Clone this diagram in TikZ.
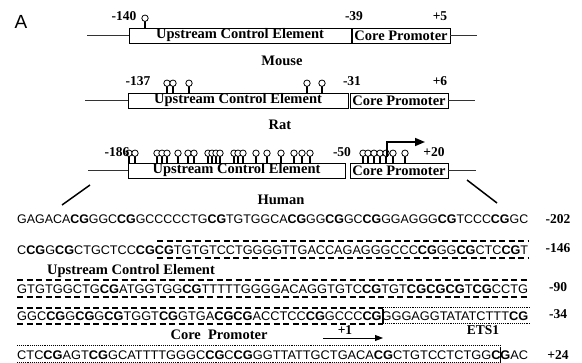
\documentclass[tikz,border=0pt]{standalone}
\usepackage{fontspec}
\usepackage{graphicx}
\setmainfont{Liberation Serif}
\newfontfamily\seqfont{Liberation Sans}
\usetikzlibrary{arrows.meta}
\newcommand\lol[2]{\draw[lolstem] (#1,#2) -- (#1,#2-6.5); \draw[lolhead] (#1,#2-9.8) circle (3.2pt);}
\newcommand\sq[1]{\resizebox{511pt}{\height}{\seqfont\fontsize{12.5}{14}\selectfont #1}}
\begin{document}
\begin{tikzpicture}[x=1pt,y=-1pt,
  box/.style={draw, line width=0.8pt, inner sep=0pt, minimum height=15pt, font=\bfseries\fontsize{14.5}{16}\selectfont},
  lbl/.style={inner sep=0pt, font=\bfseries\fontsize{13.5}{15}\selectfont},
  spec/.style={inner sep=0pt, font=\bfseries\fontsize{14.5}{16}\selectfont},
  flank/.style={line width=0.8pt, black!80},
  lolstem/.style={line width=1.3pt},
  lolhead/.style={line width=0.8pt, fill=white},
  seqline/.style={inner sep=0pt, anchor=west},
  dashbox/.style={line width=1.3pt, dash pattern=on 6pt off 3.5pt},
  dotbox/.style={line width=1pt, dash pattern=on 0.8pt off 1.1pt},
  slash/.style={line width=1.5pt}]
\useasboundingbox (0,0) rectangle (582,363);
\node[inner sep=0pt, font=\seqfont\fontsize{19}{20}\selectfont] (A) at (21,22) {A};

% Mouse
\node[box, minimum width=222pt] (mU) at (240,35.5) {Upstream Control Element};
\node[box, minimum width=98pt] (mC) at (401,35.5) {Core Promoter};
\coordinate (mL) at (87,35.5);
\coordinate (mR) at (477,35.5);
\draw[flank] (mL) -- (mU.west);
\draw[flank] (mC.east) -- (mR);
\lol{145}{28}
\node[lbl] (m140) at (124,16) {-140};
\node[lbl] (m39) at (354,16) {-39};
\node[lbl] (m5) at (440,16) {+5};
\node[spec] (mouse) at (282,61) {Mouse};

% Rat
\node[box, minimum width=220pt] (rU) at (238,100.5) {Upstream Control Element};
\node[box, minimum width=98pt] (rC) at (399,100.5) {Core Promoter};
\coordinate (rL) at (85,100.5);
\coordinate (rR) at (475,100.5);
\draw[flank] (rL) -- (rU.west);
\draw[flank] (rC.east) -- (rR);
\foreach \p in {167,173,189,307,322} {\lol{\p}{93}}
\node[lbl] (r137) at (138,81) {-137};
\node[lbl] (r31) at (352,81) {-31};
\node[lbl] (r6) at (440,81) {+6};
\node[spec] (rat) at (280,125) {Rat};

% Human
\node[box, minimum width=217pt] (hU) at (236.5,170.5) {Upstream Control Element};
\node[box, minimum width=98pt] (hC) at (399,170.5) {Core Promoter};
\coordinate (hL) at (88,170.5);
\coordinate (hR) at (476,170.5);
\draw[flank] (hL) -- (hU.west);
\draw[flank] (hC.east) -- (hR);
\foreach \p in {129,135,157,162,167,178,188,194,208,212,216,220,234,238,243,256,267,281,294,302,310,363,368,374,380,386,393,405} {\lol{\p}{163}}
\node[lbl] (h186) at (117,152) {-186};
\node[lbl] (h50) at (342,152) {-50};
\node[lbl] (h20) at (434,152) {+20};
\coordinate (tss0) at (387,157);
\coordinate (tss1) at (387,142);
\coordinate (tss2) at (425,142);
\draw[line width=1.5pt, -{Triangle[length=10pt,width=8pt]}] (tss0) -- (tss1) -- (tss2);
\node[spec] (human) at (281,200) {Human};
\coordinate (dl1) at (90,185); \coordinate (dl2) at (62,205);
\coordinate (dr1) at (467,180); \coordinate (dr2) at (497,203);
\draw[slash] (dl1) -- (dl2);
\draw[slash] (dr1) -- (dr2);

% Sequence
\node[seqline] (s1) at (17,219) {\sq{GAGACA\textbf{CG}GGC\textbf{CG}GCCCCCTG\textbf{CG}TGTGGCA\textbf{CG}GG\textbf{CG}GC\textbf{CG}GGAGGG\textbf{CG}TCCC\textbf{CG}GC}};
\node[seqline] (s2) at (17,250) {\sq{C\textbf{CG}G\textbf{CG}CTGCTCC\textbf{CG}\textbf{CG}TGTGTCCTGGGGTTGACCAGAGGGCCC\textbf{CG}GG\textbf{CG}CTC\textbf{CG}T}};
\node[seqline] (s3) at (17,289) {\sq{GTGTGGCTG\textbf{CG}ATGGTGG\textbf{CG}TTTTTGGGGACAGGTGTC\textbf{CG}TGT\textbf{CGCGCG}T\textbf{CG}CCTG}};
\node[seqline] (s4) at (17,316) {\sq{GGC\textbf{CG}G\textbf{CG}G\textbf{CG}TGGT\textbf{CG}GTGA\textbf{CGCG}ACCTCC\textbf{CG}GCCC\textbf{CG}GGGAGGTATATCTTT\textbf{CG}}};
\node[seqline] (s5) at (17,355) {\sq{CTC\textbf{CG}AGT\textbf{CG}GCATTTTGGGC\textbf{CG}C\textbf{CG}GGTTATTGCTGACA\textbf{CG}CTGTCCTCTGG\textbf{CG}AC}};

\node[lbl] (n1) at (558,219) {-202};
\node[lbl] (n2) at (558,248) {-146};
\node[lbl] (n3) at (558,287) {-90};
\node[lbl] (n4) at (558,314) {-34};
\node[lbl] (n5) at (558,355) {+24};

% Upstream control element (dashed)
\draw[dashbox] (157,241) -- (528,241);
\draw[dashbox] (157,258) -- (528,258);
\draw[dashbox] (17,280) -- (528,280);
\draw[dashbox] (17,297) -- (528,297);
\draw[dashbox] (17,308) -- (383,308);
\draw[dashbox] (17,324) -- (383,324);
\node[spec] (uce) at (131,271) {Upstream Control Element};

% Core promoter (dotted)
\draw[dotbox] (383,308) -- (530,308);
\draw[dotbox] (383,324) -- (530,324);
\draw[line width=1.2pt] (383,309) -- (383,323);
\draw[dotbox] (17,346) -- (500,346);
\draw[dotbox] (17,363) -- (500,363);
\draw[line width=1pt] (500,347) -- (500,362);
\node[spec] (cp) at (219,335) {Core\ \ Promoter};

\node[lbl] (p1) at (345,330) {+1};
\coordinate (a1) at (323,338);
\coordinate (a2) at (383,338);
\draw[line width=0.9pt, -{Triangle[length=8pt,width=6pt]}] (a1) -- (a2);
\node[lbl] (ets) at (483,330) {ETS1};
\end{tikzpicture}
\end{document}
